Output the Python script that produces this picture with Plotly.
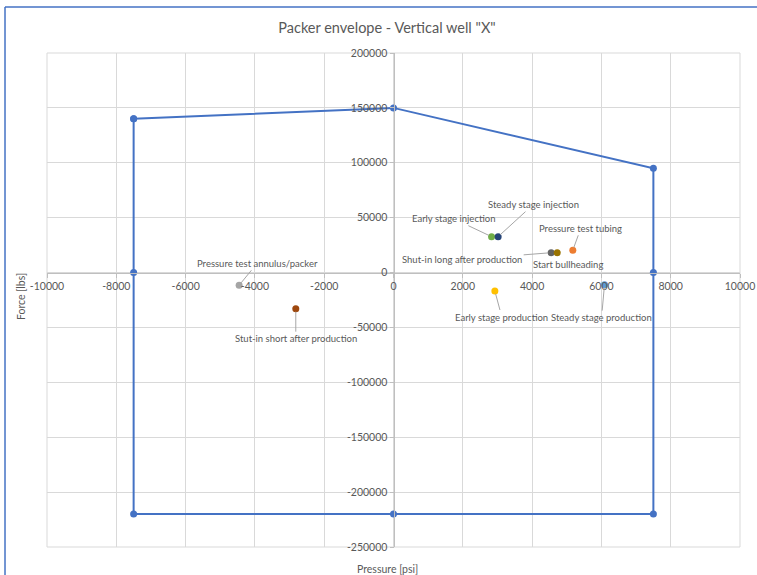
import plotly.graph_objects as go

# Packer operating envelope (pressure [psi], force [lbs])
env_pressure = [-7500, 0, 7500, 7500, 7500, 0, -7500, -7500, -7500]
env_force = [140000, 150000, 95000, 0, -220000, -220000, -220000, 0, 140000]

# Load cases
case_names = [
    "Pressure test annulus/packer",
    "Stut-in short after production",
    "Early stage injection",
    "Steady stage injection",
    "Pressure test tubing",
    "Shut-in long after production",
    "Start bullheading",
    "Early stage production",
    "Steady stage production",
]
case_pressure = [-4455, -2820, 2830, 3020, 5175, 4550, 4725, 2925, 6090]
case_force = [-11600, -32900, 32700, 32700, 20300, 18100, 18100, -16800, -11000]
case_colors = ["#A5A5A5", "#9E480E", "#70AD47", "#264478", "#ED7D31",
               "#636363", "#997300", "#FFC000", "#5B9BD5"]

# label offsets in pixels relative to each point
label_dx = [18, 0, -38, 35, 8, -89, 11, 7, -3]
label_dy = [-22, 30, -18, -32, -22, 7, 12, 26, 33]
label_leader = [True, True, True, True, True, True, False, True, True]

# axis ticks and their labels
x_ticks = [-10000, -8000, -6000, -4000, -2000, 0, 2000, 4000, 6000, 8000, 10000]
x_tick_labels = ["-10000", "-8000", "-6000", "-4000", "-2000", "0",
                 "2000", "4000", "6000", "8000", "10000"]
y_ticks = [-250000, -200000, -150000, -100000, -50000, 0, 50000, 100000, 150000, 200000]
y_tick_labels = ["-250000", "-200000", "-150000", "-100000", "-50000", "0",
                 "50000", "100000", "150000", "200000"]

FONT = "Lato"
GREY = "#595959"

fig = go.Figure()

fig.add_trace(go.Scatter(
    x=env_pressure, y=env_force, mode="lines+markers",
    line=dict(color="#4472C4", width=2),
    marker=dict(color="#4472C4", size=7),
    name="Envelope", hoverinfo="x+y",
))

for name, px, fy, col in zip(case_names, case_pressure, case_force, case_colors):
    fig.add_trace(go.Scatter(
        x=[px], y=[fy], mode="markers",
        marker=dict(color=col, size=7),
        name=name,
    ))

annotations = []
for name, px, fy, dx, dy, lead in zip(case_names, case_pressure, case_force,
                                       label_dx, label_dy, label_leader):
    if lead:
        annotations.append(dict(
            x=px, y=fy, xref="x", yref="y", text=name,
            showarrow=True, arrowhead=0, arrowwidth=1, arrowcolor="#A6A6A6",
            ax=dx, ay=dy, standoff=3,
            font=dict(family=FONT, size=9.5, color=GREY),
        ))
    else:
        annotations.append(dict(
            x=px, y=fy, xref="x", yref="y", text=name, showarrow=False,
            xshift=dx, yshift=-dy,
            font=dict(family=FONT, size=9.5, color=GREY),
        ))

# axis titles
annotations.append(dict(
    x=0.4913, y=-0.029, xref="paper", yref="paper", text="Pressure [psi]",
    showarrow=False, yanchor="top", font=dict(family=FONT, size=10.5, color=GREY),
))
annotations.append(dict(
    x=-0.0375, y=0.506, xref="paper", yref="paper", text="Force [lbs]",
    showarrow=False, textangle=-90, xanchor="center",
    font=dict(family=FONT, size=10.5, color=GREY),
))

axis_common = dict(
    showgrid=True, gridcolor="#D9D9D9", gridwidth=1,
    zeroline=False, showline=True, linecolor="#BFBFBF", linewidth=1,
    ticks="outside", ticklen=4, tickcolor="#BFBFBF",
    tickfont=dict(family=FONT, size=10.5, color=GREY),
    anchor="free", automargin=False,
)

fig.update_layout(
    width=757, height=575,
    margin=dict(l=47, r=17, t=53, b=28, autoexpand=False),
    paper_bgcolor="white", plot_bgcolor="white",
    showlegend=False,
    title=dict(text='Packer envelope - Vertical well "X"',
               xref="paper", x=0.4906, xanchor="center",
               y=0.951, yanchor="middle",
               font=dict(family=FONT, size=14.5, color=GREY)),
    xaxis=dict(range=[-10000, 10000], tickvals=x_ticks, ticktext=x_tick_labels,
               position=250000 / 450000, **axis_common),
    yaxis=dict(range=[-250000, 200000], tickvals=y_ticks, ticktext=y_tick_labels,
               position=0.5, **axis_common),
    annotations=annotations,
    shapes=[
        # chart frame (top and left edge)
        dict(type="line", xref="paper", yref="paper", x0=-0.0606, x1=1.1,
             y0=1.0931, y1=1.0931, line=dict(color="#4472C4", width=1.5)),
        dict(type="line", xref="paper", yref="paper", x0=-0.0606, x1=-0.0606,
             y0=1.0931, y1=-0.1, line=dict(color="#4472C4", width=1.5)),
        # plot area border
        dict(type="rect", xref="paper", yref="paper", x0=0, x1=1, y0=0, y1=1,
             line=dict(color="#D9D9D9", width=1), layer="below"),
    ],
)

fig.write_html("out.html")
